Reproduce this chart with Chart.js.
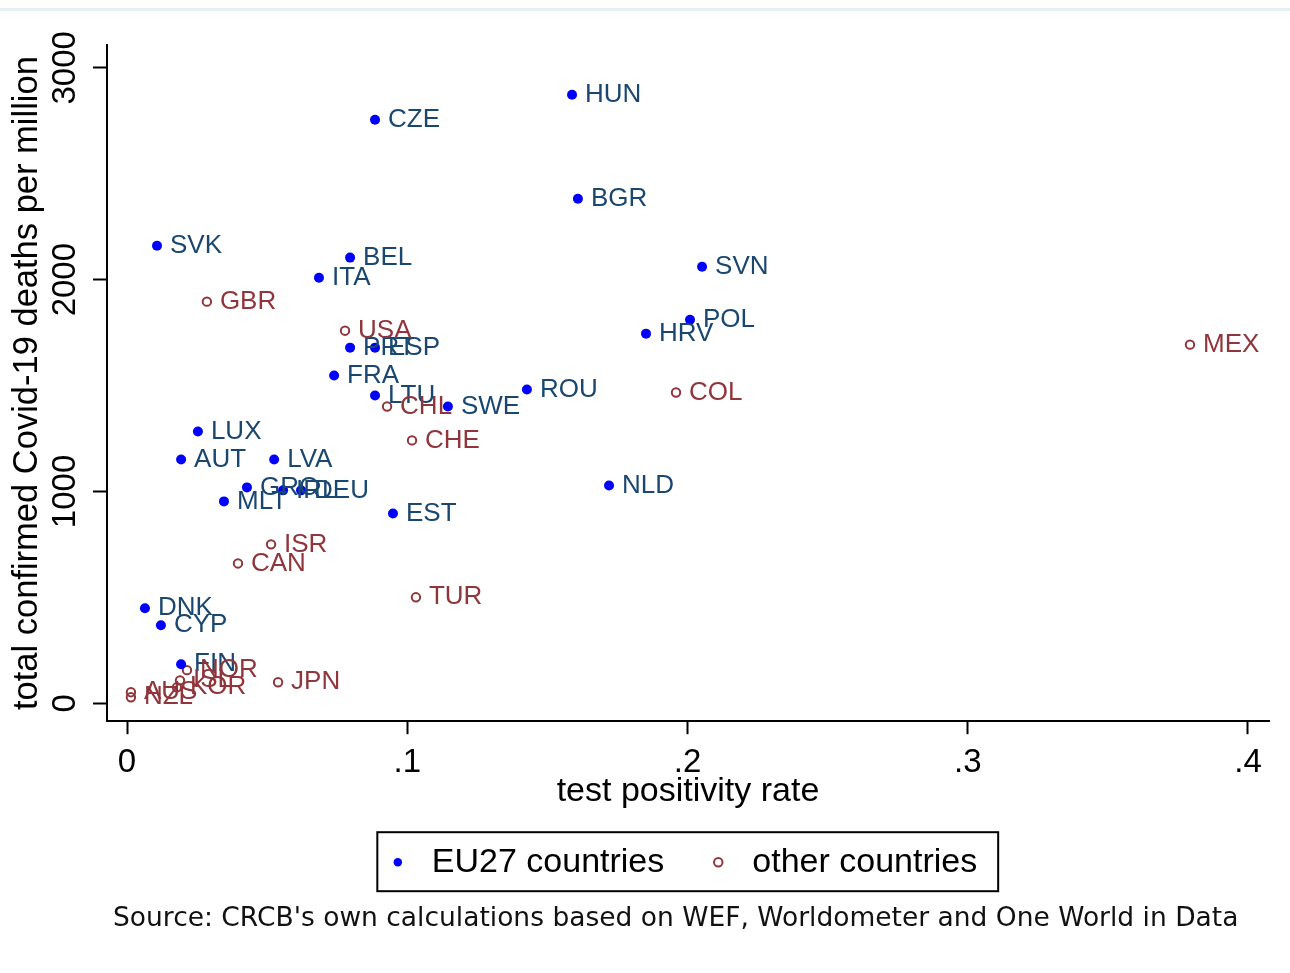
<!DOCTYPE html>
<html><head><meta charset="utf-8">
<script src="https://cdn.jsdelivr.net/npm/chart.js@4.4.1/dist/chart.umd.min.js"></script>
<style>
html,body{margin:0;padding:0;background:#fff;}
#wrap{position:relative;width:1290px;height:973px;overflow:hidden;}
#topline{position:absolute;left:0;top:8px;width:1290px;height:3px;background:#e7eef2;}
canvas{position:absolute;left:0;top:0;}
</style></head><body>
<div id="wrap"><canvas id="c" width="1290" height="973"></canvas><div id="topline"></div></div>
<script>
// ---- data ----
const euCountries = ['HUN','CZE','BGR','SVK','BEL','ITA','SVN','POL','HRV','PRT','ESP','FRA','LTU','SWE','ROU','LUX','AUT','LVA','GRC','IRL','DEU','MLT','EST','NLD','DNK','CYP','FIN'];
const euPositivity = [0.1588,0.0885,0.1609,0.0107,0.0796,0.0685,0.2052,0.2009,0.1852,0.0796,0.0885,0.0739,0.0885,0.1145,0.1427,0.0253,0.0193,0.0525,0.0428,0.0557,0.0621,0.0346,0.0949,0.1720,0.0064,0.0121,0.0193];
const euDeaths = [2873,2755,2382,2160,2104,2009,2061,1811,1745,1679,1679,1547,1453,1401,1481,1283,1151,1151,1019,1005,1005,953,896,1028,448,368,184];

const otherCountries = ['GBR','USA','CHL','CHE','COL','MEX','ISR','CAN','TUR','JPN','NOR','ISL','KOR','AUS','NZL'];
const otherPositivity = [0.0285,0.0778,0.0928,0.1017,0.1959,0.3793,0.0514,0.0396,0.1031,0.0539,0.0214,0.0189,0.0178,0.0014,0.0014];
const otherDeaths = [1896,1759,1401,1241,1467,1693,750,660,500,99,156,108,75,52,28];

const xTickValues = [0, 0.1, 0.2, 0.3, 0.4];
const xTickLabels = ['0', '.1', '.2', '.3', '.4'];
const yTickValues = [0, 1000, 2000, 3000];
const yTickLabels = ['0', '1000', '2000', '3000'];

const seriesNames = ['EU27 countries', 'other countries'];
const xTitle = 'test positivity rate';
const yTitle = 'total confirmed Covid-19 deaths per million';
const sourceNote = "Source: CRCB's own calculations based on WEF, Worldometer and One World in Data";

// ---- helpers ----
const toPoints = (xs, ys) => xs.map((x, i) => ({ x: x, y: ys[i] }));
const labelFor = (vals, labs) => v => {
  let best = 0;
  vals.forEach((t, i) => { if (Math.abs(t - v) < Math.abs(vals[best] - v)) best = i; });
  return labs[best];
};

Chart.defaults.font.family = "'Liberation Sans', Arial, sans-serif";
Chart.defaults.color = '#000';

const pointLabels = {
  id: 'pointLabels',
  afterDatasetsDraw(chart) {
    const ctx = chart.ctx;
    ctx.save();
    ctx.font = "26px 'Liberation Sans', Arial, sans-serif";
    ctx.textBaseline = 'middle';
    ctx.textAlign = 'left';
    chart.data.datasets.forEach((ds, i) => {
      const meta = chart.getDatasetMeta(i);
      ctx.fillStyle = ds.labelColor;
      meta.data.forEach((el, j) => {
        ctx.fillText(ds.pointNames[j], el.x + 13, el.y);
      });
    });
    ctx.restore();
  }
};

const legendFrame = {
  id: 'legendFrame',
  afterLayout(chart) {
    const lg = chart.legend;
    if (lg) { lg.left -= 9; lg.right -= 9; }
    const tb = chart.titleBlock;
    if (tb) { tb.left += 6; tb.right += 6; }
  },
  afterDraw(chart) {
    const lg = chart.legend;
    if (!lg || !lg.lineWidths) return;
    const p = lg.options.labels.padding;
    const start = ((lg.left + p) + (lg.right - lg.lineWidths[0])) / 2;
    const end = start + lg.lineWidths[0] - p;
    const ctx = chart.ctx;
    ctx.save();
    ctx.strokeStyle = '#000';
    ctx.lineWidth = 2;
    ctx.strokeRect(start - 3.5, lg.top + 24, end - start + 24.5, 59);
    ctx.restore();
  }
};

new Chart(document.getElementById('c'), {
  type: 'scatter',
  data: {
    datasets: [
      {
        label: seriesNames[0],
        data: toPoints(euPositivity, euDeaths),
        pointNames: euCountries,
        labelColor: '#1a476f',
        backgroundColor: '#0000ff',
        borderColor: '#0000ff',
        borderWidth: 0,
        pointRadius: 5,
        pointHoverRadius: 5
      },
      {
        label: seriesNames[1],
        data: toPoints(otherPositivity, otherDeaths),
        pointNames: otherCountries,
        labelColor: '#90353b',
        backgroundColor: 'rgba(255,255,255,0)',
        borderColor: '#90353b',
        borderWidth: 2,
        pointRadius: 4.2,
        pointHoverRadius: 4.2
      }
    ]
  },
  options: {
    responsive: false,
    animation: false,
    events: [],
    layout: { padding: { top: 45, right: 21, bottom: 0, left: 0 } },
    scales: {
      x: {
        type: 'linear',
        position: 'bottom',
        min: -0.00714,
        max: 0.4075,
        afterBuildTicks: s => { s.ticks = xTickValues.map(v => ({ value: v })); },
        afterFit: s => { s.height = 87; },
        ticks: {
          callback: labelFor(xTickValues, xTickLabels),
          font: { size: 33 },
          color: '#000',
          padding: 9,
          maxRotation: 0,
          autoSkip: false
        },
        grid: { display: true, drawOnChartArea: false, drawTicks: true, tickLength: 13, tickColor: '#000', tickWidth: 2 },
        border: { display: true, color: '#000', width: 2 },
        title: { display: true, text: xTitle, color: '#000', font: { size: 34, lineHeight: 1 }, padding: { top: 0, bottom: 0 } }
      },
      y: {
        type: 'linear',
        position: 'left',
        min: -85,
        max: 3108,
        afterBuildTicks: s => { s.ticks = yTickValues.map(v => ({ value: v })); },
        afterFit: s => { s.width = 107; },
        ticks: {
          callback: labelFor(yTickValues, yTickLabels),
          font: { size: 33 },
          color: '#000',
          minRotation: 90,
          maxRotation: 90,
          crossAlign: 'center',
          padding: -10,
          autoSkip: false
        },
        grid: { display: true, drawOnChartArea: false, drawTicks: true, tickLength: 14, tickColor: '#000', tickWidth: 2 },
        border: { display: true, color: '#000', width: 2 },
        title: { display: true, text: yTitle, color: '#000', font: { size: 34.5, lineHeight: 1 }, padding: { top: 10, bottom: 0 } }
      }
    },
    plugins: {
      tooltip: { enabled: false },
      legend: {
        display: true,
        position: 'bottom',
        fullSize: false,
        labels: {
          usePointStyle: true,
          pointStyle: 'circle',
          boxWidth: 34,
          boxHeight: 6,
          padding: 37,
          color: '#000',
          font: { size: 34 }
        }
      },
      title: {
        display: true,
        text: sourceNote,
        position: 'bottom',
        align: 'start',
        fullSize: false,
        color: '#111',
        font: { family: "'DejaVu Sans', sans-serif", size: 26.5, weight: 'normal', lineHeight: 1.2 },
        padding: { top: 14, bottom: 38 }
      }
    }
  },
  plugins: [pointLabels, legendFrame]
});
</script>
</body></html>
